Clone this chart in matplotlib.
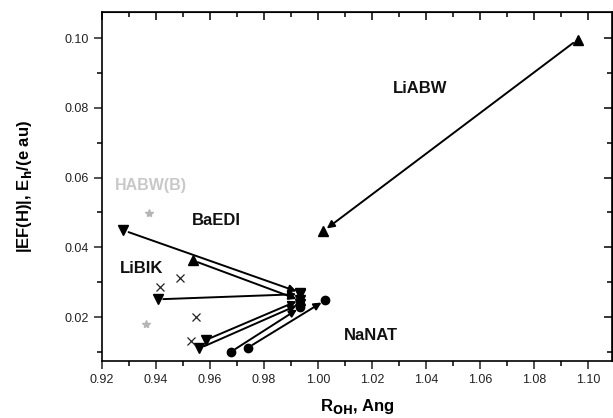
import numpy as np
import matplotlib
matplotlib.use("Agg")
import matplotlib.pyplot as plt
from matplotlib.ticker import MultipleLocator, FormatStrFormatter

plt.rcParams["font.family"] = ["Liberation Sans", "DejaVu Sans"]

# arrows: start -> end, marker per series
x_start = [0.9280, 0.9536, 0.9407, 0.9584, 0.9560, 0.9677, 0.9740, 1.0960]
y_start = [0.0449, 0.0363, 0.0251, 0.0134, 0.0110, 0.0100, 0.0112, 0.0996]
x_end = [0.9935, 0.9935, 0.9935, 0.9935, 0.9935, 0.9935, 1.0026, 1.0020]
y_end = [0.0270, 0.0248, 0.0266, 0.0250, 0.0238, 0.0228, 0.0248, 0.0447]
markers = ["v", "^", "v", "v", "v", "o", "o", "^"]

# LiBIK crosses
cross_x = [0.9416, 0.9490, 0.9547, 0.9530]
cross_y = [0.0287, 0.0313, 0.0199, 0.0131]

# HABW(B) grey stars
star_x = [0.9376, 0.9363]
star_y = [0.0499, 0.0180]

labels = ["LiABW", "BaEDI", "LiBIK", "NaNAT"]
label_x = [1.0376, 0.9623, 0.9346, 1.0194]
label_y = [0.0857, 0.0478, 0.0340, 0.0148]

fig = plt.figure(figsize=(6.13, 4.18), dpi=100)
ax = fig.add_axes([0.1659, 0.1371, 0.8325, 0.8342])

for xs, ys, xe, ye, m in zip(x_start, y_start, x_end, y_end, markers):
    ax.annotate("", xy=(xe, ye), xytext=(xs, ys),
                arrowprops=dict(arrowstyle="-|>", color="black", lw=1.4,
                                shrinkA=4, shrinkB=3, mutation_scale=11))
    ms = 6 if m == "o" else 7.5
    ax.plot([xs, xe], [ys, ye], linestyle="none", marker=m, color="black",
            markersize=ms)

ax.plot(cross_x, cross_y, linestyle="none", marker="x", color="#222222",
        markersize=6, markeredgewidth=0.9)
ax.plot(star_x, star_y, linestyle="none", marker="*", color="#b5b5b5",
        markersize=6)

for t, x, y in zip(labels, label_x, label_y):
    ax.text(x, y, t, ha="center", va="center", fontsize=12,
            fontweight="bold", color="#111111")
ax.text(0.9382, 0.0577, "HABW(B)", ha="center", va="center", fontsize=11.5,
        fontweight="bold", color="#c8c8c8")

ax.set_xlim(0.92, 1.1087)
ax.set_ylim(0.0075, 0.1075)
ax.xaxis.set_major_locator(MultipleLocator(0.02))
ax.xaxis.set_minor_locator(MultipleLocator(0.01))
ax.yaxis.set_major_locator(MultipleLocator(0.02))
ax.yaxis.set_minor_locator(MultipleLocator(0.01))
ax.xaxis.set_major_formatter(FormatStrFormatter("%.2f"))
ax.yaxis.set_major_formatter(FormatStrFormatter("%.2f"))
ax.tick_params(which="major", direction="out", length=6, width=1.1,
               labelsize=9, colors="#222222")
ax.tick_params(which="minor", direction="out", length=3.5, width=1.1)

for side in ["top", "right"]:
    sec = ax.secondary_xaxis("top") if side == "top" else ax.secondary_yaxis("right")
    axis = sec.xaxis if side == "top" else sec.yaxis
    axis.set_major_locator(MultipleLocator(0.02))
    axis.set_minor_locator(MultipleLocator(0.01))
    sec.tick_params(which="major", direction="in", length=6, width=1.1)
    sec.tick_params(which="minor", direction="in", length=3.5, width=1.1)
    sec.tick_params(labeltop=False, labelright=False)

for s in ax.spines.values():
    s.set_linewidth(1.2)

ax.set_xlabel("R$_{\\mathbf{OH}}$, Ang", fontsize=12, fontweight="bold",
              labelpad=8)
ax.set_ylabel("|EF(H)|, E$_{\\mathbf{h}}$/(e au)", fontsize=12,
              fontweight="bold", labelpad=22)

fig.savefig("out.png", dpi=100)
